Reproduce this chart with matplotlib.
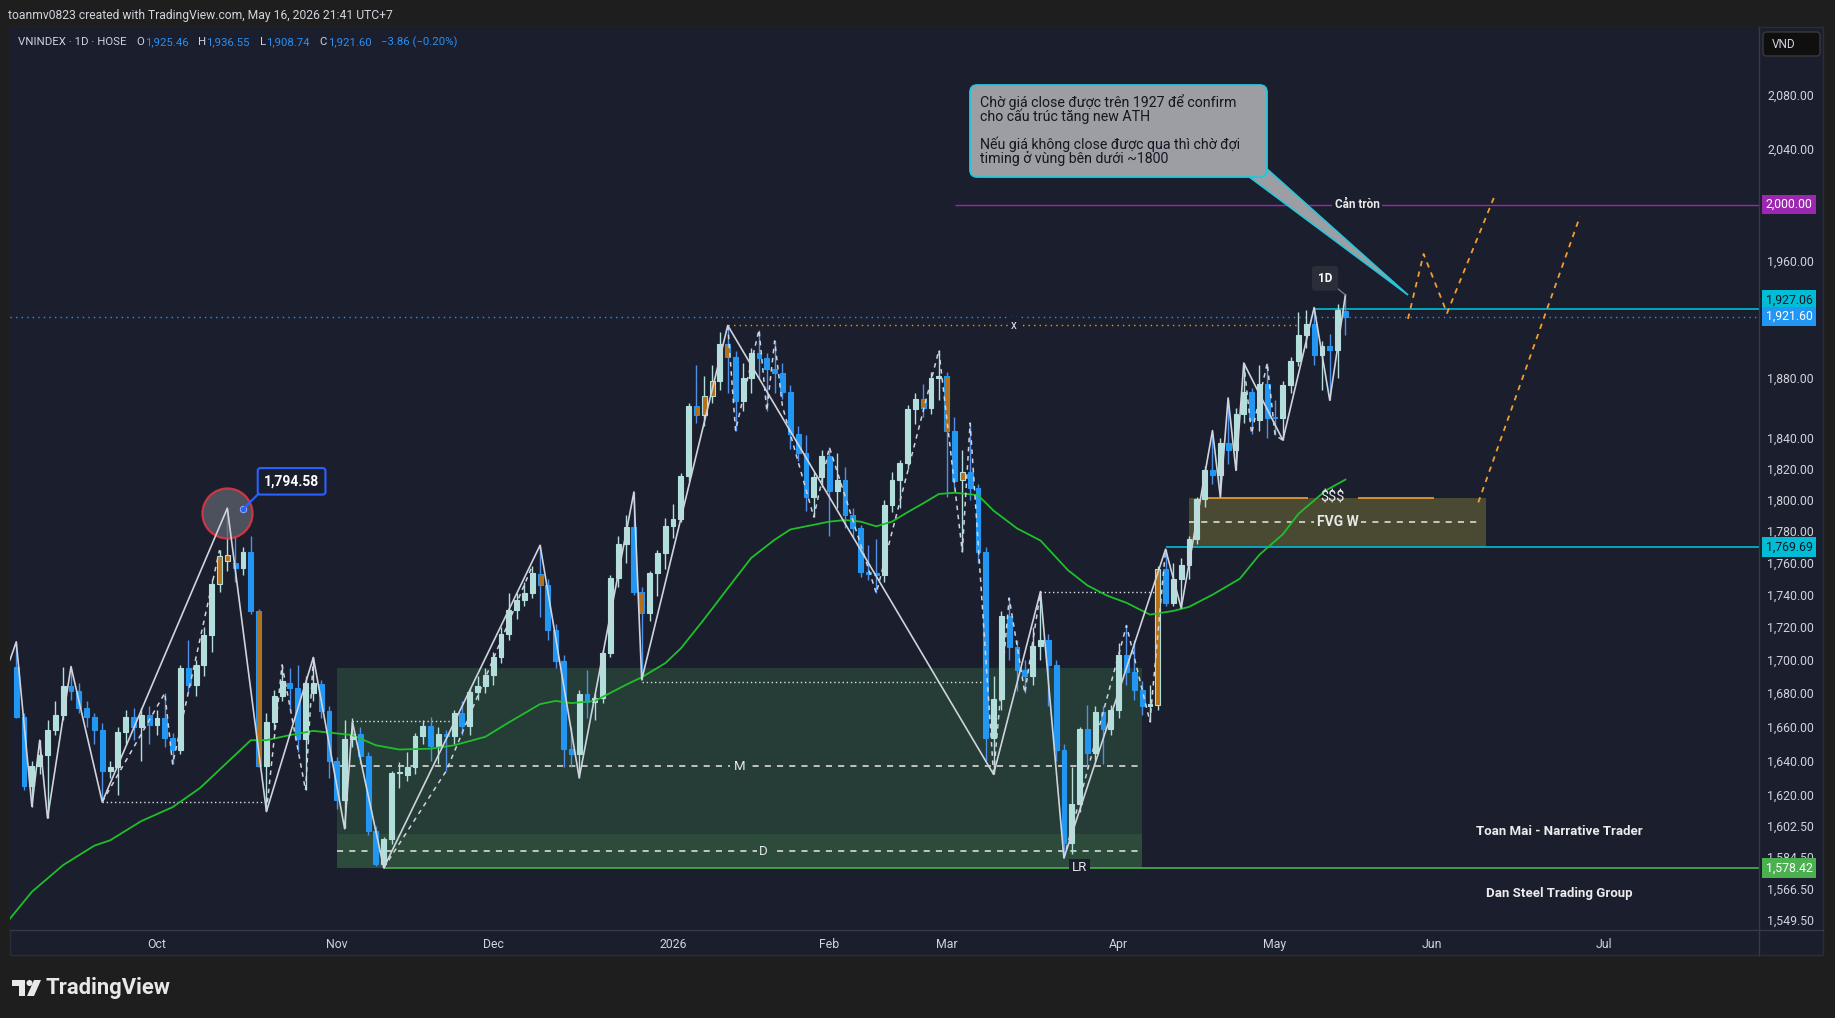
import matplotlib
matplotlib.use("Agg")
import matplotlib.pyplot as plt
import matplotlib.transforms as mtransforms
from matplotlib.patches import Rectangle, FancyBboxPatch, Polygon, Ellipse
from matplotlib.lines import Line2D
from matplotlib.ticker import FixedLocator, NullLocator, FuncFormatter
import numpy as np

plt.rcParams['font.family'] = ['Roboto', 'DejaVu Sans']

# ---------------- data ----------------
# daily bars, VNINDEX, ~5 Sep 2025 .. 15 May 2026 (bar index 0..170)
opens = [1696, 1666, 1625, 1637, 1643, 1658, 1667, 1684, 1681, 1671,
         1666, 1658, 1634, 1636, 1657, 1666, 1660, 1667, 1661, 1665,
         1653, 1646, 1695, 1685, 1697, 1715, 1747, 1761, 1760, 1757,
         1767, 1730, 1637, 1663, 1678.5, 1686, 1683, 1652.6, 1680, 1685.6,
         1669, 1640, 1617.2, 1652.6, 1655.9, 1642.5, 1599.5, 1580.8, 1594.6, 1632.5,
         1631.5, 1636.2, 1654.2, 1660.1, 1648.7, 1655.9, 1654.6, 1668, 1660.1, 1680.4,
         1684.4, 1690.8, 1701.5, 1715.8, 1730.8, 1736.6, 1741, 1753, 1746, 1718,
         1699.4, 1646.7, 1644, 1679.4, 1674.4, 1677.2, 1704, 1750.6, 1771.6, 1782.4,
         1742, 1729, 1753.6, 1766.3, 1783.5, 1787.5, 1815.5, 1861, 1855, 1868,
         1878, 1903, 1894.4, 1864.7, 1880, 1896.5, 1893.4, 1886, 1883, 1870.6,
         1843, 1830, 1802, 1814.5, 1828.3, 1805.8, 1812.8, 1790, 1781.7, 1754,
         1753.5, 1752.5, 1796.6, 1813, 1823.5, 1859, 1866, 1860, 1880.2, 1881,
         1845, 1812.8, 1817.6, 1807.7, 1766.8, 1653, 1676.5, 1726.8, 1708, 1693.8,
         1690.3, 1708.6, 1712, 1696.7, 1646.2, 1592.5, 1614.8, 1658.5, 1644.7, 1668.5,
         1658.5, 1670, 1702.8, 1692.5, 1682, 1672.4, 1673, 1756, 1735, 1749.8,
         1758.6, 1774.7, 1800.2, 1819, 1816, 1836.8, 1832, 1856.1, 1870.6, 1852,
         1875.7, 1853.5, 1853, 1875, 1891.6, 1909.3, 1916.4, 1895.7, 1901.6, 1898.6,
         1925.46]
highs = [1711, 1668, 1640, 1652, 1664, 1675, 1696, 1696, 1686, 1675,
         1668, 1662, 1640, 1660, 1670, 1671, 1671, 1672, 1670, 1680,
         1656, 1697, 1712, 1700, 1720, 1750, 1768, 1794.6, 1777, 1770,
         1777, 1731, 1668, 1682, 1697, 1695, 1697, 1690, 1701.5, 1688,
         1672, 1642, 1664, 1665, 1660, 1645, 1602, 1596, 1634, 1639,
         1645, 1656, 1664, 1666, 1660, 1658, 1670, 1675, 1683, 1690,
         1695, 1705, 1720, 1741, 1741, 1748, 1758, 1771, 1750, 1722,
         1703, 1660, 1682, 1694, 1680, 1706, 1752, 1777, 1790, 1805,
         1745, 1755, 1768, 1788, 1797, 1817, 1863, 1889, 1881, 1889,
         1911, 1915.5, 1898, 1890, 1900, 1912.6, 1897, 1905, 1890, 1875,
         1848, 1842, 1818, 1832, 1834, 1830, 1821, 1795, 1784, 1771,
         1775, 1800, 1818, 1826, 1862, 1870, 1876, 1884, 1898.6, 1884,
         1854, 1832, 1850, 1810, 1770, 1690, 1730, 1738, 1712, 1700,
         1720, 1742, 1716, 1700, 1650, 1636, 1660, 1673, 1672, 1672,
         1673, 1710, 1721, 1712, 1687, 1685, 1758, 1768.5, 1760, 1763,
         1777, 1802, 1822, 1845, 1840, 1866, 1860, 1890, 1873, 1889,
         1890, 1865, 1878, 1894, 1925, 1926, 1927.8, 1905, 1910, 1930,
         1936.55]
lows = [1665, 1623, 1613, 1632, 1607, 1655, 1664, 1676, 1668, 1660,
        1650, 1616, 1630, 1620, 1650, 1652, 1640, 1650, 1655, 1648,
        1638, 1644, 1680, 1678, 1690, 1705, 1742, 1755, 1748, 1752,
        1728, 1636, 1610.5, 1658, 1675, 1670, 1645, 1622.8, 1675, 1665,
        1630, 1612, 1601, 1648, 1638, 1597, 1579.5, 1578.4, 1592, 1624,
        1628, 1632, 1650, 1640, 1638, 1634, 1650, 1655, 1655, 1676,
        1680, 1685, 1698, 1712, 1725, 1733, 1738, 1726, 1712, 1695,
        1636, 1636, 1630, 1665, 1664, 1674, 1702, 1745, 1760, 1740,
        1688, 1724, 1739, 1756, 1775.5, 1786, 1812, 1849.7, 1848, 1863,
        1872, 1870, 1845, 1858, 1870, 1880, 1858, 1870, 1866, 1833,
        1825, 1793, 1789, 1808, 1777, 1795, 1782, 1776, 1751, 1749,
        1741, 1748, 1792, 1795, 1820, 1849, 1854, 1856, 1865, 1802,
        1808, 1767, 1800, 1760, 1640, 1632, 1670, 1700, 1681, 1680,
        1685, 1700, 1672, 1640, 1584, 1586, 1610, 1635, 1640, 1638,
        1655, 1665, 1685, 1676, 1667, 1663, 1670, 1733, 1733, 1731.7,
        1750, 1772, 1795.5, 1810, 1802, 1823, 1819, 1850, 1843, 1845,
        1839.8, 1842, 1838.7, 1870, 1888, 1900, 1889, 1872, 1865, 1880,
        1908.74]
closes = [1666, 1625, 1637, 1643, 1658, 1667, 1684, 1681, 1671, 1666,
          1658, 1634, 1636, 1657, 1666, 1660, 1667, 1661, 1665, 1653,
          1646, 1695, 1685, 1697, 1715, 1747, 1764, 1765, 1757, 1767,
          1730, 1637, 1663, 1678.5, 1687, 1683, 1652.6, 1686, 1686, 1669,
          1640, 1617.2, 1652.6, 1655.9, 1642.5, 1599.5, 1580.8, 1594.6, 1632.5, 1633.5,
          1636.2, 1654.2, 1660.1, 1648.7, 1655.9, 1654.6, 1668, 1660.1, 1680.4, 1684.4,
          1690.8, 1701.5, 1715.8, 1730.8, 1736.6, 1741, 1753.3, 1746, 1718, 1699.4,
          1646.7, 1644, 1679.4, 1674.4, 1677.2, 1704, 1750.6, 1771.6, 1782.4, 1742,
          1729, 1753.6, 1766.3, 1783.5, 1787.5, 1815.5, 1861.2, 1855, 1868, 1878,
          1903, 1894.4, 1864.7, 1880, 1896.5, 1893.4, 1886, 1883, 1870.6, 1843,
          1830, 1802, 1814.5, 1828.3, 1805.8, 1812.8, 1790, 1781.7, 1754, 1753.1,
          1752.5, 1796.6, 1813, 1823.5, 1859, 1866, 1860, 1880.2, 1881, 1845,
          1812, 1817.6, 1807.7, 1766.8, 1653, 1676.5, 1726.8, 1708, 1693.8, 1690.3,
          1708.6, 1712, 1696.7, 1646.2, 1592.5, 1614.8, 1658.5, 1644.7, 1668.5, 1658.5,
          1670, 1702.8, 1692.5, 1682, 1672.4, 1673.2, 1756, 1735, 1749.8, 1758.6,
          1774.7, 1800.2, 1819, 1816, 1836.8, 1832, 1856.1, 1870.6, 1852, 1875.7,
          1853.5, 1853, 1875, 1891.6, 1909.3, 1916.4, 1895.7, 1901.6, 1898.6, 1926.2,
          1921.6]
orange_bars = [26, 27, 31, 67, 80, 87, 88, 89, 91, 116, 119, 121, 146]

# green moving average, read at selected bars
ma_idx = [-1, 2, 6, 10, 12, 16, 20, 23.5, 27, 30, 32, 35, 38, 41, 43, 46, 49, 53, 56, 60,
          63, 67, 69, 71, 74, 78, 80, 83, 85, 88, 91, 94, 97, 99, 101, 104, 106, 108, 110, 112,
          114, 116, 118, 120, 123, 125, 128, 131, 134.5, 137, 139.5, 142, 145, 148, 150, 153,
          156.5, 159, 162, 164, 167.5, 170]
ma_val = [1549, 1565, 1580, 1591, 1594, 1605, 1613, 1624, 1639, 1652, 1652, 1655, 1657.5, 1656,
          1655, 1649, 1646.5, 1647, 1649, 1654, 1662.5, 1673.4, 1675.3, 1674, 1675.3, 1685, 1689.5,
          1698, 1707, 1725, 1744, 1763, 1774.5, 1781, 1783, 1786, 1787, 1786, 1783, 1786, 1792,
          1797.7, 1803.7, 1804.5, 1803, 1793, 1781.7, 1774, 1755.4, 1745.8, 1739.5, 1735, 1727.7,
          1730, 1732.5, 1740, 1750, 1765, 1778, 1791, 1806, 1813]

# main swing zigzag (solid) and minor swings (dashed)
zz_idx = [-0.8, 0, 2, 3, 4, 7, 11, 27, 32, 38, 42, 43, 47, 67, 72, 79, 80, 91, 125, 131,
          134, 147, 149, 153, 154, 155, 156, 157, 162, 166, 168, 170]
zz_val = [1700, 1711, 1613.4, 1652, 1606.7, 1696, 1616, 1794.6, 1610.5, 1701.5, 1600.6, 1662.7,
          1578.4, 1771, 1630, 1805, 1688, 1915.5, 1632, 1742, 1584, 1768.5, 1731.7, 1845, 1802,
          1866.6, 1819, 1890, 1838.7, 1927.8, 1865, 1936.5]
minor_idx = [[11, 19, 20, 26], [32, 34, 37, 38], [47, 55, 66],
             [91, 92, 95, 96, 97, 98, 102, 104, 110, 118, 121, 122, 125],
             [125, 127, 129, 131], [134, 142, 145, 147], [157, 158, 160, 161, 162]]
minor_val = [[1616, 1680, 1638, 1768], [1610.5, 1697, 1622.8, 1701.5], [1578.4, 1634, 1758],
             [1915.5, 1845, 1912.6, 1858, 1905, 1861, 1789, 1834, 1741, 1898.6, 1767, 1850, 1632],
             [1632, 1738, 1680, 1742], [1584, 1721, 1663, 1768.5], [1890, 1843, 1890, 1842, 1838.7]]

# projected paths (orange dashed)
proj_a_idx = [178, 180, 183, 189]
proj_a_val = [1920, 1965, 1924, 2005]
proj_b_idx = [187, 200]
proj_b_val = [1798.3, 1991.5]

# levels
resistance = 2000.0
ath_level = 1927.06
last_close = 1921.60
jan_high = 1915.5
fvg_low, fvg_high = 1769.69, 1801.3
range_top, discount_top, lr_level = 1695.0, 1597.4, 1578.42
swing_high_label = 1794.58
dotted_levels = [1616, 1663.3, 1686.5, 1742]
dotted_from = [11, 43, 80, 131]
dotted_to = [32, 56, 123.5, 146]

month_pos = [18, 41, 61, 84, 104, 119, 141, 161, 181, 203]
month_lbl = ["Oct", "Nov", "Dec", "2026", "Feb", "Mar", "Apr", "May", "Jun", "Jul"]
price_ticks = [2080, 2040, 1960, 1880, 1840, 1820, 1800, 1780, 1760, 1740, 1720, 1700, 1680,
               1660, 1640, 1620, 1602.5, 1584.5, 1566.5, 1549.5]

# ---------------- style ----------------
W, H = 1835, 1018
BG = "#1a1e2d"
OUTER = "#1e1e1e"
TXT = "#d1d4dc"
UP = "#b2dfdb"
DOWN = "#2196f3"
DOWN_WICK = "#4f8fe8"
ORANGE = "#b86f14"
SEP = "#363a45"
CYAN = "#00bcd4"
NUM = "#2a8ff0"


def fx(px):
    return px / W


def fy(py):
    return 1 - py / H


fig = plt.figure(figsize=(W / 100, H / 100), dpi=100)
fig.patch.set_facecolor(OUTER)

# chart panel
fig.add_artist(Rectangle((fx(10), fy(955)), fx(1823) - fx(10), fy(27) - fy(955),
                         transform=fig.transFigure, fc=BG, ec="#2a2e39", lw=1, zorder=-1))

ax = fig.add_axes([fx(10), fy(930), fx(1759) - fx(10), fy(27) - fy(930)])
ax.set_facecolor(BG)
ax.set_yscale("log")
for s in ax.spines.values():
    s.set_visible(False)

# separators of price / time scales
fig.add_artist(Line2D([fx(10), fx(1823)], [fy(930), fy(930)], transform=fig.transFigure, color=SEP, lw=1))
fig.add_artist(Line2D([fx(1759), fx(1759)], [fy(27), fy(955)], transform=fig.transFigure, color=SEP, lw=1))

# ---------------- zones ----------------
ax.add_patch(Rectangle((41, lr_level), 144 - 41, range_top - lr_level, fc="#253c37", ec="none", zorder=1))
ax.add_patch(Rectangle((41, lr_level), 144 - 41, discount_top - lr_level, fc="#2c4b3b", ec="none", zorder=1.1))
mid_m = (range_top + lr_level) / 2
mid_d = (discount_top + lr_level) / 2
ax.hlines([mid_m, mid_d], 41, 144, colors="#e8e8e8", lw=1.1, linestyles=(0, (4, 4)), zorder=2)
ax.text(92.5, mid_m, "M", color="#e8e8e8", fontsize=9.5, ha="center", va="center", zorder=8,
        bbox=dict(boxstyle="square,pad=0.25", fc="#253c37", ec="none"))
ax.text(95.6, mid_d, "D", color="#e8e8e8", fontsize=9.5, ha="center", va="center", zorder=8,
        bbox=dict(boxstyle="square,pad=0.2", fc="#2c4b3b", ec="none"))

ax.add_patch(Rectangle((150, fvg_low), 188 - 150, fvg_high - fvg_low, fc="#4a4a33", ec="none", zorder=1))
fvg_mid = (fvg_low + fvg_high) / 2
ax.hlines(fvg_mid, 150, 187.3, colors="#e8e8e8", lw=1.1, linestyles=(0, (4, 4)), zorder=2)
ax.text(169, fvg_mid, "FVG W", color="#e8e8e8", fontsize=10, fontweight="bold", ha="center",
        va="center", zorder=8, bbox=dict(boxstyle="square,pad=0.2", fc="#4a4a33", ec="none"))
ax.hlines(fvg_high, 152.4, 165.2, colors="#f0a030", lw=1.2, zorder=2)
ax.hlines(fvg_high, 171.6, 181.3, colors="#f0a030", lw=1.2, zorder=2)
ax.text(168.4, fvg_high, "$$$", color="#e8e8e8", fontsize=10.5, ha="center", va="center", zorder=8)

# ---------------- level lines ----------------
ax.hlines(resistance, 120.1, 223, colors="#9c27b0", lw=1, zorder=2)
ax.text(171.5, resistance, "Cản tròn", color="#e8e8e8", fontsize=8.5, fontweight="bold",
        ha="center", va="center", zorder=8, bbox=dict(boxstyle="square,pad=0.2", fc=BG, ec="none"))
ax.hlines(ath_level, 166, 223, colors=CYAN, lw=1.2, zorder=2)
ax.axhline(last_close, color="#2196f3", lw=1, ls=(0, (1, 3)), zorder=2)
ax.hlines(jan_high, 91, 164, colors="#ff9800", lw=1, linestyles=(0, (1, 3)), zorder=2)
ax.text(127.6, jan_high, "x", color="#e8e8e8", fontsize=8.5, ha="center", va="center", zorder=8,
        bbox=dict(boxstyle="square,pad=0.15", fc=BG, ec="none"))
ax.hlines(fvg_low, 147, 223, colors=CYAN, lw=1.2, zorder=2)
ax.hlines(lr_level, 47, 223, colors="#4caf50", lw=1.2, zorder=2)
ax.text(136, lr_level, "LR", color="#e8e8e8", fontsize=9.5, ha="center", va="center", zorder=8,
        bbox=dict(boxstyle="square,pad=0.2", fc=BG, ec="none"))
ax.hlines(dotted_levels, dotted_from, dotted_to, colors="#e0e0e0", lw=1, linestyles=(0, (1, 2)), zorder=2)

# ---------------- candles ----------------
x = np.arange(len(closes))
o = np.array(opens, dtype=float)
h = np.array(highs, dtype=float)
l = np.array(lows, dtype=float)
c = np.array(closes, dtype=float)
up = c >= o
body_col = [UP if u else DOWN for u in up]
edge_col = list(body_col)
wick_col = [UP if u else DOWN_WICK for u in up]
for i in orange_bars:
    body_col[i] = ORANGE
ax.vlines(x, l, h, colors=wick_col, lw=1.0, zorder=3)
ax.bar(x, np.maximum(np.abs(c - o), 1.0), bottom=np.minimum(o, c), width=0.62,
       color=body_col, edgecolor=edge_col, linewidth=0.8, zorder=4)

# ---------------- indicators / drawings ----------------
ax.plot(ma_idx, ma_val, color="#1fbf2a", lw=1.3, zorder=5)
ax.plot(zz_idx, zz_val, color="#cfd3dc", lw=1.2, zorder=6)
for mi, mv in zip(minor_idx, minor_val):
    ax.plot(mi, mv, color="#cfd3dc", lw=1.1, ls=(0, (3, 3)), zorder=6)
ax.plot(proj_a_idx, proj_a_val, color="#f0a030", lw=1.3, ls=(0, (3, 3)), zorder=6)
ax.plot(proj_b_idx, proj_b_val, color="#f0a030", lw=1.3, ls=(0, (3, 3)), zorder=6)

# swing-high marker
ax.scatter([27], [1791.5], s=1300, marker="o", facecolor="#5a5d6a", alpha=0.8,
           edgecolor="#f23645", linewidth=1.6, zorder=5.5)
ax.scatter([29], [1794], s=22, color="#2962ff", edgecolor="#9db8ff", linewidth=0.6, zorder=9)
ax.annotate(f"{swing_high_label:,.2f}", xy=(29, 1794), xytext=(35, 20), textcoords="offset points",
            color="white", fontsize=10, fontweight="bold", ha="center", va="center", zorder=9,
            bbox=dict(boxstyle="round,pad=0.45,rounding_size=0.2", fc=BG, ec="#2962ff", lw=1.5),
            arrowprops=dict(arrowstyle="-", color="#2962ff", lw=1.5, relpos=(0, 0), shrinkA=0, shrinkB=2))

ax.annotate("1D", xy=(170, 1936.5), xytext=(167.4, 1948), textcoords="data", color="white",
            fontsize=8.5, fontweight="bold", ha="center", va="center", zorder=9,
            bbox=dict(boxstyle="round,pad=0.5,rounding_size=0.3", fc="#2a2e39", ec="none"),
            arrowprops=dict(arrowstyle="-", color="#787b86", lw=1, shrinkA=0, shrinkB=0))

ax.text(197.3, 1599.3, "Toan Mai - Narrative Trader", color="#ececec", fontsize=9.5,
        fontweight="bold", ha="center", va="center", zorder=8)
ax.text(197.3, 1564.2, "Dan Steel Trading Group", color="#ececec", fontsize=9.5,
        fontweight="bold", ha="center", va="center", zorder=8)

# ---------------- axes ----------------
ax.set_xlim(-0.8, 222.9)
ax.set_ylim(1543.8, 2130.8)
ax.yaxis.tick_right()
ax.yaxis.set_major_locator(FixedLocator(price_ticks))
ax.yaxis.set_major_formatter(FuncFormatter(lambda v, p: f"{v:,.2f}"))
ax.yaxis.set_minor_locator(NullLocator())
ax.set_xticks(month_pos, month_lbl)
ax.tick_params(axis="both", length=0, colors=TXT, labelsize=8.8)
ax.tick_params(axis="y", pad=6)
ax.tick_params(axis="x", pad=6)

# price badges on the scale
bt = mtransforms.blended_transform_factory(ax.transAxes, ax.transData)


def badge(val, fc, tc, dy=0.0):
    ax.annotate(f"{val:,.2f}", xy=(1.0, val), xycoords=bt, xytext=(4.8, dy), textcoords="offset points",
                ha="left", va="center", fontsize=8.8, color=tc, zorder=12, annotation_clip=False,
                bbox=dict(boxstyle="square,pad=0.28", fc=fc, ec="none"))


badge(resistance, "#9c27b0", "white")
badge(ath_level, CYAN, "#131722", dy=6)
badge(last_close, "#2196f3", "white")
badge(fvg_low, CYAN, "#131722")
badge(lr_level, "#4caf50", "white")

# ---------------- callout ----------------
fig.add_artist(Polygon([(fx(1248), fy(176)), (fx(1266), fy(168)), (fx(1408), fy(295))],
                       closed=True, transform=fig.transFigure, fc="#9d9ea3", ec="#26c6da", lw=1.2, zorder=19))
fig.add_artist(FancyBboxPatch((fx(970), fy(177)), fx(1267) - fx(970), fy(85) - fy(177),
                              boxstyle="round,pad=0,rounding_size=0.004", mutation_aspect=W / H,
                              transform=fig.transFigure, fc="#9d9ea3", ec="#26c6da", lw=1.3, zorder=20))
fig.text(fx(980), fy(94), "Chờ giá close được trên 1927 để confirm\ncho cấu trúc tăng new ATH\n\n"
         "Nếu giá không close được qua thì chờ đợi\ntiming ở vùng bên dưới ~1800",
         ha="left", va="top", fontsize=10.2, color="#131722", linespacing=0.92, zorder=21)

# ---------------- header / legend ----------------
fig.text(fx(8), fy(15), "toanmv0823 created with TradingView.com, May 16, 2026 21:41 UTC+7",
         ha="left", va="center", fontsize=8.7, color=TXT)
leg_y = fy(42)
fig.text(fx(18), leg_y, "VNINDEX · 1D · HOSE", ha="left", va="center", fontsize=8.2, color=TXT)
for xp, s, col in [(136.5, "O", TXT), (145.5, "1,925.46", NUM), (198, "H", TXT), (206.5, "1,936.55", NUM),
                   (259.5, "L", TXT), (266.5, "1,908.74", NUM), (319, "C", TXT), (328, "1,921.60", NUM),
                   (381, "−3.86 (−0.20%)", NUM)]:
    fig.text(fx(xp), leg_y, s, ha="left", va="center", fontsize=8.2, color=col)

fig.add_artist(FancyBboxPatch((fx(1763), fy(56)), fx(1820) - fx(1763), fy(32) - fy(56),
                              boxstyle="round,pad=0,rounding_size=0.002", mutation_aspect=W / H,
                              transform=fig.transFigure, fc="#0f0f0f", ec="#3a3a3a", lw=1))
fig.text(fx(1772), fy(44), "VND", ha="left", va="center", fontsize=8.5, color=TXT)

# ---------------- logo ----------------
fig.add_artist(Rectangle((fx(12), fy(986)), fx(25) - fx(12), fy(980) - fy(986), transform=fig.transFigure,
                         fc="#e8e8e8", ec="none"))
fig.add_artist(Rectangle((fx(19), fy(996)), fx(25) - fx(19), fy(980) - fy(996), transform=fig.transFigure,
                         fc="#e8e8e8", ec="none"))
fig.add_artist(Ellipse((fx(29.5), fy(983)), 6 / W, 6 / H, transform=fig.transFigure, fc="#e8e8e8", ec="none"))
fig.add_artist(Polygon([(fx(27), fy(996)), (fx(34), fy(980)), (fx(41), fy(980)), (fx(34), fy(996))],
                       transform=fig.transFigure, fc="#e8e8e8", ec="none"))
fig.text(fx(45), fy(988), "TradingView", ha="left", va="center", fontsize=15.8, fontweight="bold",
         color="#e8e8e8")

fig.savefig("out.png", dpi=100, facecolor=fig.get_facecolor())
